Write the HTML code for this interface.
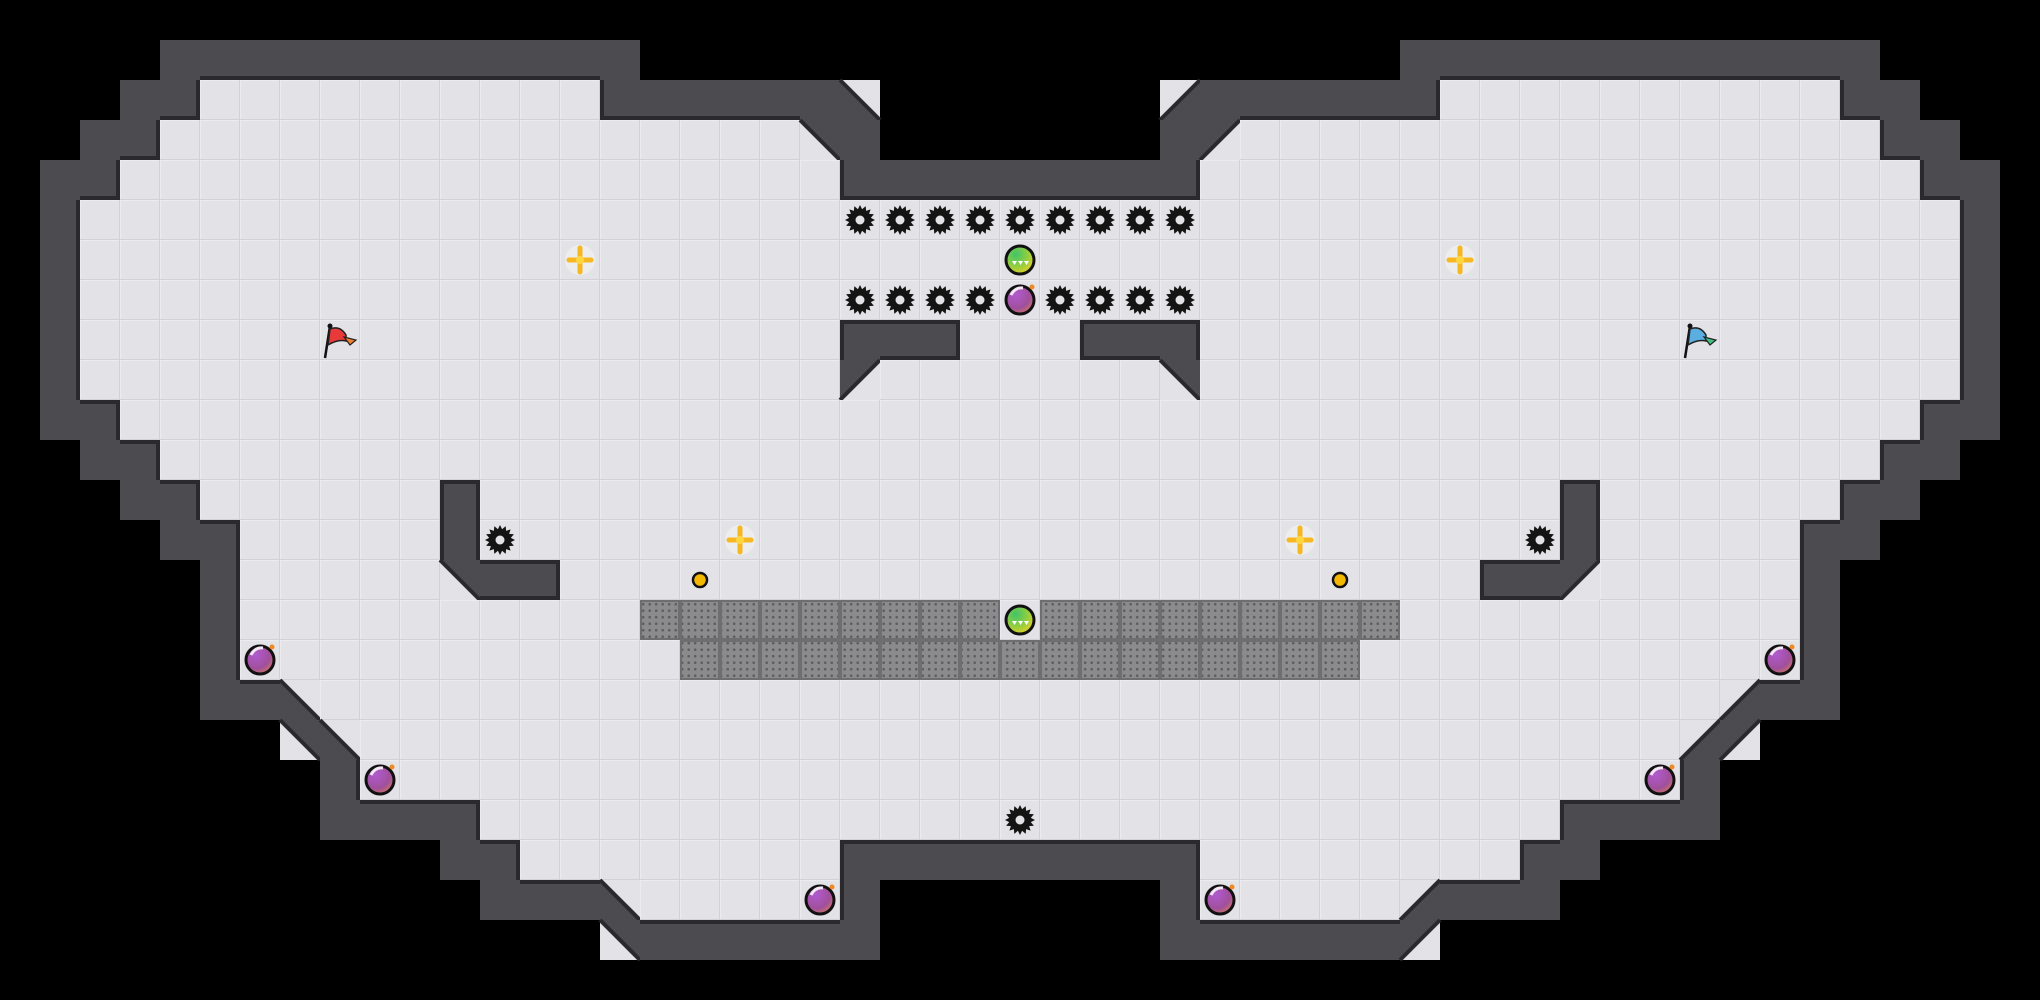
<!DOCTYPE html>
<html><head><meta charset="utf-8">
<style>
html,body{margin:0;padding:0;background:#000;width:2040px;height:1000px;overflow:hidden}
svg{display:block}
</style></head>
<body>
<svg id="s" width="2040" height="1000" viewBox="0 0 2040 1000" xmlns="http://www.w3.org/2000/svg">
<defs>
<pattern id="dots" width="6.5" height="6.5" patternUnits="userSpaceOnUse" x="3" y="3">
<rect width="6.5" height="6.5" fill="#8b8b8d"/><circle cx="3.2" cy="3.2" r="1.3" fill="#5e5e60"/>
</pattern>
<radialGradient id="gb" cx="0.35" cy="0.3" r="0.8"><stop offset="0" stop-color="#3fc46a"/><stop offset="0.6" stop-color="#9ccf3a"/><stop offset="1" stop-color="#f0d020"/></radialGradient>
<radialGradient id="pb" cx="0.35" cy="0.3" r="0.85"><stop offset="0" stop-color="#b05ad0"/><stop offset="0.6" stop-color="#a0509a"/><stop offset="1" stop-color="#e08050"/></radialGradient>
</defs>
<rect width="2040" height="1000" fill="#000"/>
<g id="g"></g>
</svg>
<script>
var L=[
"..........................",
"....############..........",
"...##ffffffffff######c....",
"..##ffffffffffffffffb#....",
".##ffffffffffffffffff#####",
".#ffffffffffffffffffffffff",
".#ffffffffffffffffffffffff",
".#ffffffffffffffffffffffff",
".#fffffffffffffffffff###ff",
".#fffffffffffffffffffaffff",
".##fffffffffffffffffffffff",
"..##ffffffffffffffffffffff",
"...##ffffff#ffffffffffffff",
"....##fffff#ffffffffffffff",
".....#fffffb##ffffffffffff",
".....#ffffffffffffffffffff",
".....#ffffffffffffffffffff",
".....##cffffffffffffffffff",
".......bcfffffffffffffffff",
"........#fffffffffffffffff",
"........####ffffffffffffff",
"...........##ffffffff#####",
"............###cfffff#....",
"...............b######....",
".........................."];
var mir={a:'b',b:'a',c:'d',d:'c'};
var M=[];
for(var r=0;r<25;r++){var row=[];for(var c=0;c<51;c++){var ch;if(c<=25)ch=L[r][c];else{ch=L[r][50-c];if(mir[ch])ch=mir[ch];}row.push(ch);}M.push(row);}
var T=40,out=[];
function isF(r,c){if(r<0||r>=25||c<0||c>=51)return false;return M[r][c]=='f';}
function isW(r,c){if(r<0||r>=25||c<0||c>=51)return false;return M[r][c]=='#';}
var FL='#e3e3e7',WL='#4b4b50',ED='#2a2a2e';
function floorRect(x,y){out.push('<rect x="'+x+'" y="'+y+'" width="40" height="40" fill="'+FL+'"/><path d="M'+(x+0.5)+' '+(y+39.5)+'V'+(y+0.5)+'H'+(x+39.5)+'" stroke="#ececf0" fill="none"/><path d="M'+(x+39.5)+' '+y+'V'+(y+39.5)+'H'+x+'" stroke="#d2d2d6" fill="none"/>');}
for(var r=0;r<25;r++)for(var c=0;c<51;c++){var ch=M[r][c],x=c*T,y=r*T;
 if(ch=='f')floorRect(x,y);
 else if(ch=='#')out.push('<rect x="'+x+'" y="'+y+'" width="40" height="40" fill="'+WL+'"/>');
 else if('abcd'.indexOf(ch)>=0){
  var TL=[x,y],TR=[x+40,y],BL=[x,y+40],BR=[x+40,y+40],w,f,e;
  if(ch=='a'){w=[TL,TR,BL];f=[TR,BR,BL];e=[TR,BL];}
  if(ch=='b'){w=[TL,TR,BR];f=[TL,BR,BL];e=[TL,BR];}
  if(ch=='c'){w=[TL,BL,BR];f=[TL,TR,BR];e=[TL,BR];}
  if(ch=='d'){w=[TR,BR,BL];f=[TL,TR,BL];e=[TR,BL];}
  out.push('<polygon points="'+f.join(' ')+'" fill="'+FL+'"/>');
  out.push('<polygon points="'+w.join(' ')+'" fill="'+WL+'"/>');
  out.push('<line x1="'+e[0][0]+'" y1="'+e[0][1]+'" x2="'+e[1][0]+'" y2="'+e[1][1]+'" stroke="'+ED+'" stroke-width="4"/>');
 }}
// edges of wall tiles facing floor
for(var r=0;r<25;r++)for(var c=0;c<51;c++){if(M[r][c]!='#')continue;var x=c*T,y=r*T;
 if(isF(r-1,c))out.push('<rect x="'+x+'" y="'+y+'" width="40" height="4" fill="'+ED+'"/>');
 if(isF(r+1,c))out.push('<rect x="'+x+'" y="'+(y+36)+'" width="40" height="4" fill="'+ED+'"/>');
 if(isF(r,c-1))out.push('<rect x="'+x+'" y="'+y+'" width="4" height="40" fill="'+ED+'"/>');
 if(isF(r,c+1))out.push('<rect x="'+(x+36)+'" y="'+y+'" width="4" height="40" fill="'+ED+'"/>');
}
function cx(c){return c*T+20}
function gate(c,r){var x=c*T,y=r*T;out.push('<rect x="'+(x+1)+'" y="'+(y+1)+'" width="38" height="38" fill="url(#dots)" stroke="#6e6e70" stroke-width="2"/>');}
for(var c=16;c<=34;c++)if(c!=25)gate(c,15);
for(var c=17;c<=33;c++)gate(c,16);
function spike(c,r){var X=cx(c),Y=cx(r),p=[];for(var i=0;i<32;i++){var a=i*Math.PI/16,rr=(i%2==0)?15:11;p.push((X+rr*Math.cos(a)).toFixed(1)+','+(Y+rr*Math.sin(a)).toFixed(1));}
 out.push('<polygon points="'+p.join(' ')+'" fill="#141414"/><circle cx="'+X+'" cy="'+Y+'" r="4.5" fill="'+FL+'"/>');}
for(var c=21;c<=29;c++){spike(c,5);if(c!=25)spike(c,7);}
spike(12,13);spike(38,13);spike(25,20);
function green(c,r){var X=cx(c),Y=cx(r);out.push('<circle cx="'+X+'" cy="'+Y+'" r="14" fill="url(#gb)" stroke="#111" stroke-width="3"/><path d="M'+(X-8)+' '+(Y+1)+'l2.5 4 2.5-4zM'+(X-2)+' '+(Y+1)+'l2.5 4 2.5-4zM'+(X+4)+' '+(Y+1)+'l2.5 4 2.5-4z" fill="#fff"/>');}
green(25,6);green(25,15);
function bomb(c,r){var X=cx(c),Y=cx(r);out.push('<circle cx="'+X+'" cy="'+Y+'" r="14" fill="url(#pb)" stroke="#111" stroke-width="3"/><path d="M'+(X-9)+' '+(Y-5)+'q4 -8 12 -7" stroke="#f4e8f4" stroke-width="3" fill="none"/><circle cx="'+(X+12)+'" cy="'+(Y-13)+'" r="2.5" fill="#f08a20"/>');}
bomb(25,7);bomb(6,16);bomb(44,16);bomb(9,19);bomb(41,19);bomb(20,22);bomb(30,22);
function boost(c,r){var X=cx(c),Y=cx(r);out.push('<ellipse cx="'+X+'" cy="'+Y+'" rx="15" ry="15" fill="#efefef" opacity="0.8"/><g stroke="#f5b820" stroke-width="5" stroke-linecap="round"><line x1="'+(X-11)+'" y1="'+Y+'" x2="'+(X+11)+'" y2="'+Y+'"/><line x1="'+X+'" y1="'+(Y-12)+'" x2="'+X+'" y2="'+(Y+12)+'"/></g><circle cx="'+X+'" cy="'+Y+'" r="4" fill="#ffd640"/>');}
boost(14,6);boost(36,6);boost(18,13);boost(32,13);
function btn(c,r){out.push('<circle cx="'+cx(c)+'" cy="'+cx(r)+'" r="7" fill="#f5b800" stroke="#111" stroke-width="2.5"/>');}
btn(17,14);btn(33,14);
function flag(c,r,col,col2){var x=c*T,y=r*T;out.push('<line x1="'+(x+5)+'" y1="'+(y+38)+'" x2="'+(x+10)+'" y2="'+(y+6)+'" stroke="#111" stroke-width="2.5"/><circle cx="'+(x+10)+'" cy="'+(y+6)+'" r="2.5" fill="#111"/><path d="M'+(x+10)+' '+(y+9)+'q10 -4 16 6 l0 6 q-8 -2 -18 4z" fill="'+col+'" stroke="#222" stroke-width="1.5"/><path d="M'+(x+24)+' '+(y+17)+'l12 3 -6 5z" fill="'+col2+'" stroke="#222" stroke-width="1.2"/>');}
flag(8,8,'#e83a3a','#f08030');flag(42,8,'#5aaee0','#40c080');
document.getElementById('g').innerHTML=out.join('');
</script>
</body></html>
